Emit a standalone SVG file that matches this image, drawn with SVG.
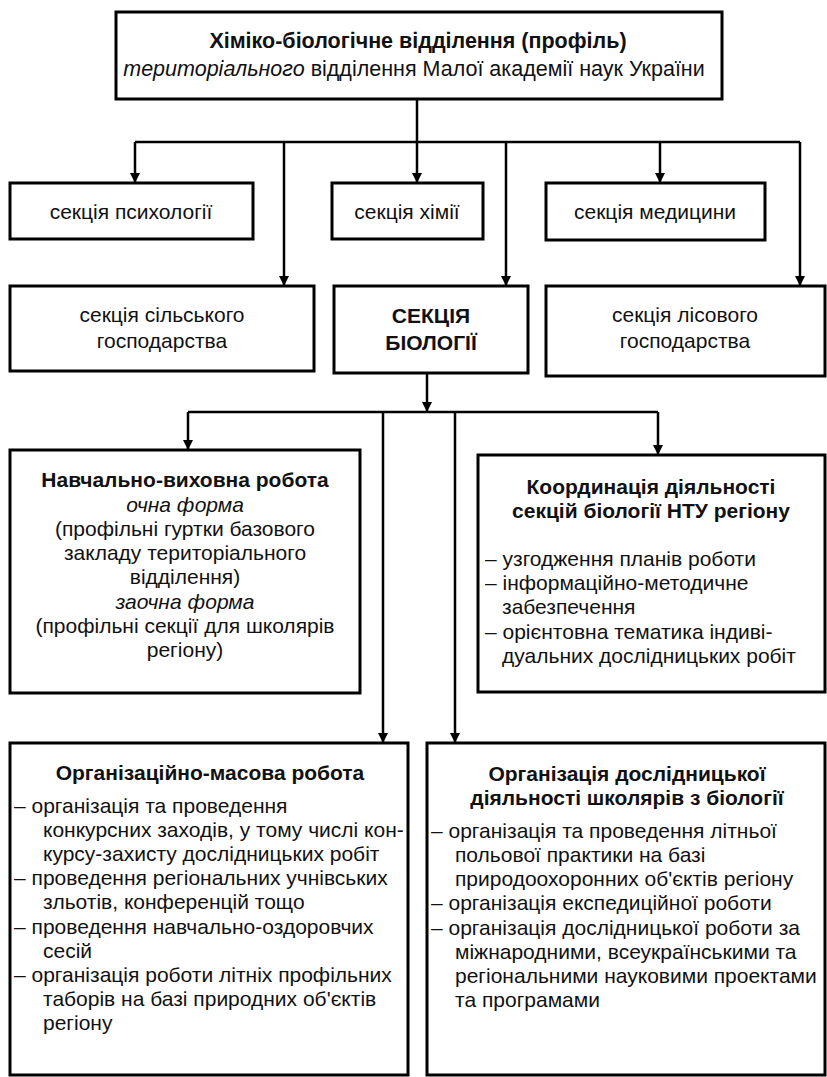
<svg xmlns="http://www.w3.org/2000/svg" width="827" height="1077" viewBox="0 0 827 1077">
<defs>
<style>
.box{fill:#fff;stroke:#000;stroke-width:3}
.ln{fill:none;stroke:#000;stroke-width:2.5}
text{font-family:"Liberation Sans",Arial,sans-serif;font-size:21px;fill:#111}
.c{text-anchor:middle}
.b{font-weight:bold}
.i{font-style:italic}
.h{font-size:21.5px}
</style>
<marker id="ah" markerUnits="userSpaceOnUse" markerWidth="10" markerHeight="14" refX="10" refY="5" orient="auto" viewBox="0 0 10 10">
<path d="M0,0 L10,5 L0,10 z" fill="#000"/>
</marker>
</defs>
<rect width="827" height="1077" fill="#fff"/>
<g id="connectors">
<path class="ln" d="M135,142 H800"/>
<path class="ln" d="M417,99 V183" marker-end="url(#ah)"/>
<path class="ln" d="M135,142 V183" marker-end="url(#ah)"/>
<path class="ln" d="M284,142 V286" marker-end="url(#ah)"/>
<path class="ln" d="M506,142 V286" marker-end="url(#ah)"/>
<path class="ln" d="M660,142 V183" marker-end="url(#ah)"/>
<path class="ln" d="M800,142 V286" marker-end="url(#ah)"/>
<path class="ln" d="M427,373 V412" marker-end="url(#ah)"/>
<path class="ln" d="M188,412 H658"/>
<path class="ln" d="M188,412 V450" marker-end="url(#ah)"/>
<path class="ln" d="M658,412 V455" marker-end="url(#ah)"/>
<path class="ln" d="M383,412 V743" marker-end="url(#ah)"/>
<path class="ln" d="M455,412 V743" marker-end="url(#ah)"/>
</g>
<g id="top">
<rect class="box" x="116" y="12" width="606" height="87"/>
<text class="c b h" x="418" y="48">Хіміко-біологічне відділення (профіль)</text>
<text class="c h" x="414" y="76"><tspan class="i">територіального</tspan> відділення Малої академії наук України</text>
</g>
<g id="psych">
<rect class="box" x="10" y="183" width="243" height="56"/>
<text class="c" x="131" y="219">секція психології</text>
</g>
<g id="chem">
<rect class="box" x="332" y="183" width="151" height="56"/>
<text class="c" x="407" y="219">секція хімії</text>
</g>
<g id="med">
<rect class="box" x="546" y="183" width="219" height="57"/>
<text class="c" x="655" y="219">секція медицини</text>
</g>
<g id="agri">
<rect class="box" x="10" y="286" width="304" height="85"/>
<text class="c" x="162" y="322">секція сільського</text>
<text class="c" x="162" y="348">господарства</text>
</g>
<g id="bio">
<rect class="box" x="334" y="286" width="194" height="87"/>
<text class="c b" x="431" y="323">СЕКЦІЯ</text>
<text class="c b" x="431" y="350">БІОЛОГІЇ</text>
</g>
<g id="forest">
<rect class="box" x="546" y="286" width="279" height="90"/>
<text class="c" x="685" y="322">секція лісового</text>
<text class="c" x="685" y="348">господарства</text>
</g>
<g id="edu">
<rect class="box" x="10" y="450" width="350" height="243"/>
<text class="c b" x="185" y="487">Навчально-виховна робота</text>
<text class="c i" x="185" y="512">очна форма</text>
<text class="c" x="185" y="536">(профільні гуртки базового</text>
<text class="c" x="185" y="560">закладу територіального</text>
<text class="c" x="185" y="584">відділення)</text>
<text class="c i" x="185" y="609">заочна форма</text>
<text class="c" x="185" y="633">(профільні секції для школярів</text>
<text class="c" x="185" y="657">регіону)</text>
</g>
<g id="coord">
<rect class="box" x="478" y="455" width="347" height="237"/>
<text class="c b" x="651" y="494">Координація діяльності</text>
<text class="c b" x="651" y="518">секцій біології НТУ регіону</text>
<text x="485" y="566">– узгодження планів роботи</text>
<text x="485" y="590">– інформаційно-методичне</text>
<text x="502" y="614">забезпечення</text>
<text x="485" y="639">– орієнтовна тематика індиві-</text>
<text x="502" y="663">дуальних дослідницьких робіт</text>
</g>
<g id="mass">
<rect class="box" x="10" y="743" width="398" height="332"/>
<text class="c b" x="210" y="780">Організаційно-масова робота</text>
<text x="14" y="813">– організація та проведення</text>
<text x="43" y="837">конкурсних заходів, у тому числі кон-</text>
<text x="43" y="861">курсу-захисту дослідницьких робіт</text>
<text x="14" y="885">– проведення регіональних учнівських</text>
<text x="43" y="909">зльотів, конференцій тощо</text>
<text x="14" y="934">– проведення навчально-оздоровчих</text>
<text x="43" y="958">сесій</text>
<text x="14" y="982">– організація роботи літніх профільних</text>
<text x="43" y="1006">таборів на базі природних об'єктів</text>
<text x="43" y="1030">регіону</text>
</g>
<g id="research">
<rect class="box" x="427" y="743" width="398" height="332"/>
<text class="c b" x="627" y="781">Організація дослідницької</text>
<text class="c b" x="627" y="805">діяльності школярів з біології</text>
<text x="431" y="838">– організація та проведення літньої</text>
<text x="455" y="862">польової практики на базі</text>
<text x="455" y="886">природоохоронних об'єктів регіону</text>
<text x="431" y="910">– організація експедиційної роботи</text>
<text x="431" y="935">– організація дослідницької роботи за</text>
<text x="455" y="959">міжнародними, всеукраїнськими та</text>
<text x="455" y="983">регіональними науковими проектами</text>
<text x="455" y="1007">та програмами</text>
</g>
</svg>
